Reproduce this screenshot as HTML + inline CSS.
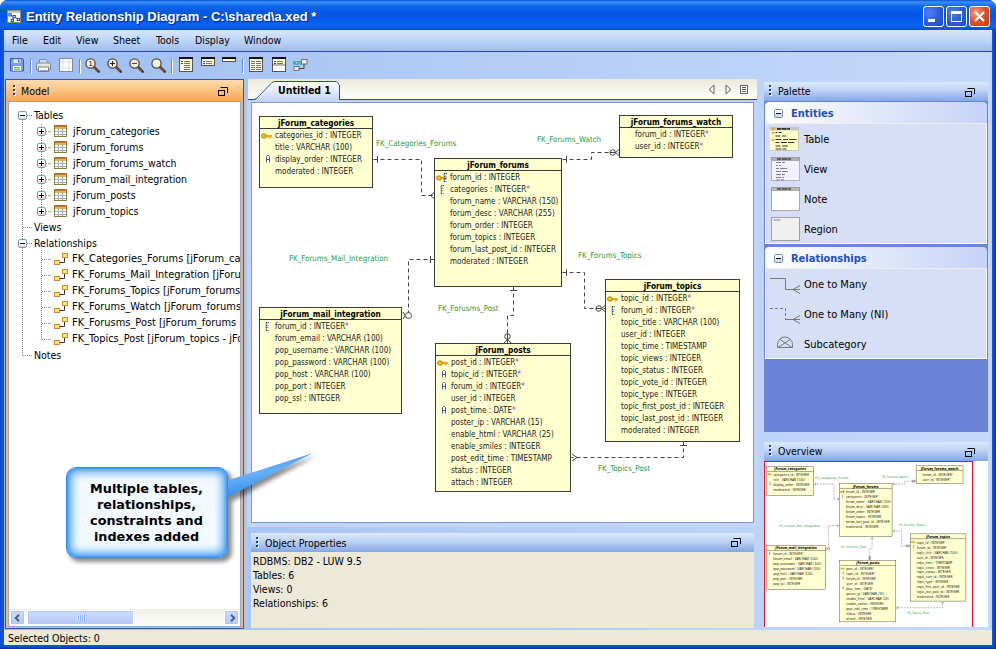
<!DOCTYPE html>
<html><head><meta charset="utf-8"><title>Entity Relationship Diagram</title>
<style>
*{box-sizing:border-box;margin:0;padding:0}
html,body{width:996px;height:649px;overflow:hidden;background:#fff}
body{font-family:"DejaVu Sans Condensed","Liberation Sans",sans-serif;font-size:10.5px;color:#000;position:relative}
div,span,svg{position:absolute}
.t{white-space:nowrap;line-height:14px;height:14px}
#win{left:0;top:0;width:996px;height:649px;border-radius:8px 8px 0 0;overflow:hidden;
 background:linear-gradient(to bottom,rgba(0,0,0,0) 0,rgba(0,0,0,0) 646px,rgba(0,20,110,.55) 649px),linear-gradient(to right,#0a46d8 0,#0b55e4 2px,#0b55e4 993px,#062ea8 996px)}
#titlebar{left:0;top:0;width:996px;height:30px;
 background:linear-gradient(to bottom,#0a56d6 0%,#3c8df6 7%,#2a7ff4 12%,#0f66ea 22%,#0558e3 38%,#0457e4 55%,#075ff0 75%,#0a64f4 85%,#0a5be6 93%,#0a4cc4 100%)}
#title{left:26px;top:9px;font-family:"Liberation Sans",sans-serif;font-weight:bold;font-size:13px;color:#fff;text-shadow:1px 1px 1px #0a2580;white-space:nowrap;line-height:16px}
.wb{top:6px;width:21px;height:21px;border:1px solid #fff;border-radius:3px;background:radial-gradient(circle at 30% 30%,#4f80f0 0,#2c5de0 50%,#1d48c8 100%)}
#client{left:4px;top:30px;width:988px;height:615px;background:linear-gradient(to right,#9ebdf3 0%,#b3ccf6 45%,#c4d9fa 100%)}
#menubar{left:0;top:0;width:988px;height:22px;background:linear-gradient(to bottom,#d8e6fb 0%,#c6daf9 35%,#a9c4ef 85%,#9ebbe9 100%);border-bottom:1px solid #3446a8}
#menubar span{top:3px;white-space:nowrap;line-height:14px}
#status{left:0;top:600px;width:988px;height:15px;background:#ece9d8}
.phead{height:21px;background:linear-gradient(to bottom,#dde9fb 0%,#bdd2f5 45%,#82a7e6 100%)}
.phead .t{top:3px;left:14px}
.grip{left:5px;top:4px;width:3px;height:11px}
.grip i{position:absolute;left:0;width:2px;height:2px;background:#1c3a9c;box-shadow:1px 1px 0 #fff}
.float{top:5px;width:11px;height:10px}
/* diagram */
.dg{font-family:"DejaVu Sans Condensed","Liberation Sans",sans-serif;font-size:8px;line-height:12px}
.tb{background:#ffffcf;border:1px solid #3a3a3a}
.tb .h{left:0;top:0;width:100%;height:12px;border-bottom:1px solid #3a3a3a;text-align:center;font-weight:bold;font-size:8.200px;line-height:13.500px;white-space:nowrap}
.tb .r{left:15px;white-space:nowrap;height:12px;line-height:12px;color:#222}
.tb .r b{color:#d020a0;font-weight:normal}
.fk{color:#2c9a3c;white-space:nowrap;height:12px;line-height:12px;font-size:7.900px}
#ov .r,#ov .fk{margin-top:2px}
</style></head><body>
<div id="win">
<div id="titlebar"><div id="title">Entity Relationship Diagram - C:\shared\a.xed *</div>
<div class="wb" style="left:923px"><div style="left:4px;top:12px;width:7px;height:3px;background:#fff"></div></div>
<div class="wb" style="left:946px"><div style="left:4px;top:4px;width:11px;height:11px;border:1px solid #fff;border-top-width:3px"></div></div>
<div class="wb" style="left:969px;background:radial-gradient(circle at 30% 30%,#f0a080 0,#e0542c 45%,#c03a12 100%)"><svg style="left:4px;top:4px" width="11" height="11" viewBox="0 0 11 11"><path d="M1 1l9 9M10 1l-9 9" stroke="#fff" stroke-width="2.200"/></svg></div>
<svg style="left:7px;top:10px" width="14" height="13" viewBox="0 0 15 14" preserveAspectRatio="none"><rect x=".5" y=".5" width="14" height="13" fill="#fff" stroke="#9a8a50"/><rect x="1" y="1" width="13" height="2" fill="#a8c0e8"/><path d="M3.500 5l3.500 2.500M8.500 7.500l3.500 3M7 8l-1.500 3" stroke="#1c3a8c" stroke-width=".9"/><g fill="#fff" stroke="#1c3a8c" stroke-width="1"><rect x="2" y="4" width="2.400" height="2.400"/><rect x="6.500" y="6" width="2.400" height="2.400"/><rect x="11" y="9" width="2.400" height="2.400"/><rect x="4.500" y="10" width="2.400" height="2.400"/></g></svg>
</div>
<div id="client">
<div id="menubar"><span style="left:8px">File</span><span style="left:39px">Edit</span><span style="left:72px">View</span><span style="left:109px">Sheet</span><span style="left:152px">Tools</span><span style="left:191px">Display</span><span style="left:240px">Window</span></div>
<svg style="left:6px;top:28px" width="14" height="14" viewBox="0 0 14 14"><path d="M1 .5h11.5l1 1v11.5H.5V.5z" fill="#7ba0e6" stroke="#3558b8"/><rect x="3" y="1" width="8" height="4.5" fill="#e8f0ff" stroke="#5a7ad0" stroke-width=".6"/><rect x="8" y="1.6" width="1.6" height="3" fill="#5a7ad0"/><rect x="2.5" y="7.5" width="9" height="5.5" fill="#fff" stroke="#5a7ad0" stroke-width=".6"/><rect x="4" y="9" width="6" height="1.4" fill="#7cc043"/><rect x="4" y="11" width="6" height="1.2" fill="#7cc043"/></svg>
<div style="left:26px;top:29px;width:1px;height:14px;background:#6a8ad0"></div><div style="left:27px;top:30px;width:1px;height:14px;background:#fff"></div>
<svg style="left:31px;top:28px" width="17" height="15" viewBox="0 0 17 15"><path d="M4.5 6V1.5h6l2.5 2.5V6" fill="#cfe0fb" stroke="#5f86d8" stroke-width=".9"/><path d="M1.5 6.5c0-1 .8-1.5 1.8-1.5h10.400c1 0 1.800.5 1.800 1.500v5h-14z" fill="#e6e6e6" stroke="#777" stroke-width=".9"/><rect x="3.500" y="9" width="10" height="4.500" fill="#fff" stroke="#777" stroke-width=".9"/><path d="M4.5 12.500h8" stroke="#7ba0e6" stroke-width="1.200"/></svg>
<svg style="left:55px;top:28px" width="14" height="14" viewBox="0 0 14 14"><rect x=".5" y=".5" width="13" height="13" fill="#fff" stroke="#8a8a8a"/><path d="M4 1v12M10 1v12M1 4h12M1 10h12" stroke="#d0d0f8" stroke-width=".8"/></svg>
<div style="left:75px;top:29px;width:1px;height:14px;background:#6a8ad0"></div><div style="left:76px;top:30px;width:1px;height:14px;background:#fff"></div>
<svg style="left:81px;top:28px" width="15" height="15" viewBox="0 0 15 15"><path d="M9 9L13.700 13.700" stroke="#5a3622" stroke-width="2.600" stroke-linecap="round"/><path d="M9 9.500L13 13.300" stroke="#b0683a" stroke-width=".9"/><circle cx="5.500" cy="5.500" r="4.600" fill="#f8f4dc" stroke="#4a4a4a" stroke-width="1.300"/><text x="3.400" y="8.300" font-size="7.500" font-family="Liberation Sans,sans-serif" fill="#000">1</text></svg>
<svg style="left:103px;top:28px" width="15" height="15" viewBox="0 0 15 15"><path d="M9 9L13.700 13.700" stroke="#5a3622" stroke-width="2.600" stroke-linecap="round"/><path d="M9 9.500L13 13.300" stroke="#b0683a" stroke-width=".9"/><circle cx="5.500" cy="5.500" r="4.600" fill="#f8f4dc" stroke="#4a4a4a" stroke-width="1.300"/><path d="M3 5.500h5M5.500 3v5" stroke="#222" stroke-width="1.100"/></svg>
<svg style="left:125px;top:28px" width="15" height="15" viewBox="0 0 15 15"><path d="M9 9L13.700 13.700" stroke="#5a3622" stroke-width="2.600" stroke-linecap="round"/><path d="M9 9.500L13 13.300" stroke="#b0683a" stroke-width=".9"/><circle cx="5.500" cy="5.500" r="4.600" fill="#f8f4dc" stroke="#4a4a4a" stroke-width="1.300"/><path d="M3 5.500h5" stroke="#7a2a2a" stroke-width="1.200"/></svg>
<svg style="left:147px;top:28px" width="15" height="15" viewBox="0 0 15 15"><path d="M9 9L13.700 13.700" stroke="#5a3622" stroke-width="2.600" stroke-linecap="round"/><path d="M9 9.500L13 13.300" stroke="#b0683a" stroke-width=".9"/><circle cx="5.500" cy="5.500" r="4.600" fill="#f8f4dc" stroke="#4a4a4a" stroke-width="1.300"/></svg>
<div style="left:167px;top:29px;width:1px;height:14px;background:#6a8ad0"></div><div style="left:168px;top:30px;width:1px;height:14px;background:#fff"></div>
<svg style="left:175px;top:27px" width="14" height="15" viewBox="0 0 14 15"><rect x=".5" y=".5" width="13" height="14" fill="#fffbd6" stroke="#555" stroke-width="1"/><rect x="0" y="0" width="14" height="2" fill="#111"/><rect x="2" y="4" width="2" height="1" fill="#2a50c0"/><rect x="5" y="4" width="6" height="1" fill="#777"/><rect x="2" y="6" width="2" height="1" fill="#2a50c0"/><rect x="5" y="6" width="6" height="1" fill="#777"/><rect x="5" y="8" width="6" height="1" fill="#777"/><rect x="5" y="10" width="6" height="1" fill="#777"/><rect x="5" y="12" width="6" height="1" fill="#777"/></svg>
<svg style="left:197px;top:27px" width="14" height="9" viewBox="0 0 14 9"><rect x=".5" y=".5" width="13" height="8" fill="#fffbd6" stroke="#555" stroke-width="1"/><rect x="0" y="0" width="14" height="2" fill="#111"/><rect x="2" y="4" width="2" height="1" fill="#2a50c0"/><rect x="5" y="4" width="6" height="1" fill="#777"/><rect x="2" y="6" width="2" height="1" fill="#2a50c0"/><rect x="5" y="6" width="6" height="1" fill="#777"/></svg>
<svg style="left:218px;top:27px" width="14" height="5" viewBox="0 0 14 5"><rect x=".5" y=".5" width="13" height="4" fill="#fffbd6" stroke="#555" stroke-width="1"/><rect x="0" y="0" width="14" height="2" fill="#111"/></svg>
<div style="left:238px;top:29px;width:1px;height:14px;background:#6a8ad0"></div><div style="left:239px;top:30px;width:1px;height:14px;background:#fff"></div>
<svg style="left:245px;top:27px" width="14" height="15" viewBox="0 0 14 15"><rect x=".5" y=".5" width="13" height="14" fill="#fffbd6" stroke="#555" stroke-width="1"/><rect x="0" y="0" width="14" height="2" fill="#111"/><rect x="2" y="4" width="4" height="1" fill="#777"/><rect x="7" y="4" width="5" height="1" fill="#777"/><rect x="2" y="6" width="4" height="1" fill="#777"/><rect x="7" y="6" width="5" height="1" fill="#777"/><rect x="2" y="8" width="4" height="1" fill="#777"/><rect x="7" y="8" width="5" height="1" fill="#777"/><rect x="2" y="10" width="4" height="1" fill="#777"/><rect x="7" y="10" width="5" height="1" fill="#777"/><rect x="2" y="12" width="4" height="1" fill="#777"/><rect x="7" y="12" width="5" height="1" fill="#777"/></svg>
<svg style="left:268px;top:27px" width="14" height="15" viewBox="0 0 14 15"><rect x=".5" y=".5" width="13" height="14" fill="#fffbd6" stroke="#555" stroke-width="1"/><rect x="0" y="0" width="14" height="2" fill="#111"/><rect x="2" y="4" width="2" height="1" fill="#2a50c0"/><rect x="5" y="4" width="6" height="1" fill="#777"/><rect x="2" y="6" width="2" height="1" fill="#2a50c0"/><rect x="5" y="6" width="6" height="1" fill="#777"/><rect x="1" y="8" width="12" height="6" fill="#fff"/><path d="M.5 8h13" stroke="#555" stroke-width=".8"/></svg>
<svg style="left:289px;top:29px" width="15" height="12" viewBox="0 0 15 12"><text x="0" y="6" font-size="5.500" font-weight="bold" font-family="Liberation Sans,sans-serif" fill="#1f9a3a">KR</text><rect x="8.500" y=".5" width="5.500" height="4.500" fill="#eee" stroke="#666" stroke-width=".9"/><rect x="1" y="7.500" width="5" height="4" fill="#eee" stroke="#666" stroke-width=".9"/><path d="M11 5v4.500H6" fill="none" stroke="#444" stroke-width="1"/></svg>
<div id="lp" style="left:1px;top:49px;width:239px;height:550px;background:#fbb465;border:1px solid #3e52ac">
<div style="left:0;top:0;width:237px;height:21px;background:linear-gradient(to bottom,#fdddb0 0%,#fbc585 45%,#f8a653 100%)"><div class="grip" style="left:7px;top:5px"><i style="top:0"></i><i style="top:4px"></i><i style="top:8px"></i></div><div class="t" style="left:15px;top:4px">Model</div><svg class="float" style="top:6px;left:211px" viewBox="0 0 11 10"><path d="M3.500 1.500H10.500V7" fill="none" stroke="#000" stroke-width="1"/><rect x="1.500" y="4.500" width="6" height="5" fill="none" stroke="#000" stroke-width="1"/></svg></div>
<div id="tree" style="left:2px;top:21px;width:233px;height:526px;background:#fff;border:1px solid #8ea8d8;overflow:hidden">
<svg style="left:0;top:0" width="231" height="300" viewBox="0 0 231 300"><g stroke="#8a8a8a" stroke-width="1" stroke-dasharray="1 1" fill="none"><path d="M13.5 18V253.5H23"/><path d="M18 13.5H23M14 125.5H23M18 141.5H23"/><path d="M32.5 22V105"/><path d="M37 29.5H43"/><path d="M37 45.5H43"/><path d="M37 61.5H43"/><path d="M37 77.5H43"/><path d="M37 93.5H43"/><path d="M37 109.5H43"/><path d="M32.5 148V237.5"/><path d="M33 157.5H43"/><path d="M33 173.5H43"/><path d="M33 189.5H43"/><path d="M33 205.5H43"/><path d="M33 221.5H43"/><path d="M33 237.5H43"/></g><rect x="9.5" y="9.5" width="8" height="8" rx="1.500" fill="#fff" stroke="#7898c0"/><rect x="10" y="15" width="7" height="2" fill="#e4e0d4"/><path d="M11 13.5h5" stroke="#000"/><rect x="9.5" y="137.5" width="8" height="8" rx="1.500" fill="#fff" stroke="#7898c0"/><rect x="10" y="143" width="7" height="2" fill="#e4e0d4"/><path d="M11 141.5h5" stroke="#000"/><rect x="28.5" y="25.5" width="8" height="8" rx="1.500" fill="#fff" stroke="#7898c0"/><rect x="29" y="31" width="7" height="2" fill="#e4e0d4"/><path d="M30 29.5h5" stroke="#000"/><path d="M32.5 27v5" stroke="#000"/><rect x="45.5" y="23.5" width="12" height="11" fill="#fff" stroke="#8a7a3a"/><rect x="46" y="24" width="11" height="3" fill="#f2b040"/><path d="M46 24.5h11" stroke="#d07818"/><path d="M49.5 27v7M53.5 27v7M46 29.5h11M46 32.5h11" stroke="#9ab0d0" stroke-width="1"/><rect x="28.5" y="41.5" width="8" height="8" rx="1.500" fill="#fff" stroke="#7898c0"/><rect x="29" y="47" width="7" height="2" fill="#e4e0d4"/><path d="M30 45.5h5" stroke="#000"/><path d="M32.5 43v5" stroke="#000"/><rect x="45.5" y="39.5" width="12" height="11" fill="#fff" stroke="#8a7a3a"/><rect x="46" y="40" width="11" height="3" fill="#f2b040"/><path d="M46 40.5h11" stroke="#d07818"/><path d="M49.5 43v7M53.5 43v7M46 45.5h11M46 48.5h11" stroke="#9ab0d0" stroke-width="1"/><rect x="28.5" y="57.5" width="8" height="8" rx="1.500" fill="#fff" stroke="#7898c0"/><rect x="29" y="63" width="7" height="2" fill="#e4e0d4"/><path d="M30 61.5h5" stroke="#000"/><path d="M32.5 59v5" stroke="#000"/><rect x="45.5" y="55.5" width="12" height="11" fill="#fff" stroke="#8a7a3a"/><rect x="46" y="56" width="11" height="3" fill="#f2b040"/><path d="M46 56.5h11" stroke="#d07818"/><path d="M49.5 59v7M53.5 59v7M46 61.5h11M46 64.5h11" stroke="#9ab0d0" stroke-width="1"/><rect x="28.5" y="73.5" width="8" height="8" rx="1.500" fill="#fff" stroke="#7898c0"/><rect x="29" y="79" width="7" height="2" fill="#e4e0d4"/><path d="M30 77.5h5" stroke="#000"/><path d="M32.5 75v5" stroke="#000"/><rect x="45.5" y="71.5" width="12" height="11" fill="#fff" stroke="#8a7a3a"/><rect x="46" y="72" width="11" height="3" fill="#f2b040"/><path d="M46 72.5h11" stroke="#d07818"/><path d="M49.5 75v7M53.5 75v7M46 77.5h11M46 80.5h11" stroke="#9ab0d0" stroke-width="1"/><rect x="28.5" y="89.5" width="8" height="8" rx="1.500" fill="#fff" stroke="#7898c0"/><rect x="29" y="95" width="7" height="2" fill="#e4e0d4"/><path d="M30 93.5h5" stroke="#000"/><path d="M32.5 91v5" stroke="#000"/><rect x="45.5" y="87.5" width="12" height="11" fill="#fff" stroke="#8a7a3a"/><rect x="46" y="88" width="11" height="3" fill="#f2b040"/><path d="M46 88.5h11" stroke="#d07818"/><path d="M49.5 91v7M53.5 91v7M46 93.5h11M46 96.5h11" stroke="#9ab0d0" stroke-width="1"/><rect x="28.5" y="105.5" width="8" height="8" rx="1.500" fill="#fff" stroke="#7898c0"/><rect x="29" y="111" width="7" height="2" fill="#e4e0d4"/><path d="M30 109.5h5" stroke="#000"/><path d="M32.5 107v5" stroke="#000"/><rect x="45.5" y="103.5" width="12" height="11" fill="#fff" stroke="#8a7a3a"/><rect x="46" y="104" width="11" height="3" fill="#f2b040"/><path d="M46 104.5h11" stroke="#d07818"/><path d="M49.5 107v7M53.5 107v7M46 109.5h11M46 112.5h11" stroke="#9ab0d0" stroke-width="1"/><path d="M50 160.5h5.500v-6" stroke="#333" fill="none"/><rect x="45.5" y="158.5" width="5" height="4" fill="#ffe08a" stroke="#d88a1c"/><rect x="53.5" y="151.5" width="5" height="4" fill="#ffe08a" stroke="#d88a1c"/><path d="M50 176.5h5.500v-6" stroke="#333" fill="none"/><rect x="45.5" y="174.5" width="5" height="4" fill="#ffe08a" stroke="#d88a1c"/><rect x="53.5" y="167.5" width="5" height="4" fill="#ffe08a" stroke="#d88a1c"/><path d="M50 192.5h5.500v-6" stroke="#333" fill="none"/><rect x="45.5" y="190.5" width="5" height="4" fill="#ffe08a" stroke="#d88a1c"/><rect x="53.5" y="183.5" width="5" height="4" fill="#ffe08a" stroke="#d88a1c"/><path d="M50 208.5h5.500v-6" stroke="#333" fill="none"/><rect x="45.5" y="206.5" width="5" height="4" fill="#ffe08a" stroke="#d88a1c"/><rect x="53.5" y="199.5" width="5" height="4" fill="#ffe08a" stroke="#d88a1c"/><path d="M50 224.5h5.500v-6" stroke="#333" fill="none"/><rect x="45.5" y="222.5" width="5" height="4" fill="#ffe08a" stroke="#d88a1c"/><rect x="53.5" y="215.5" width="5" height="4" fill="#ffe08a" stroke="#d88a1c"/><path d="M50 240.5h5.500v-6" stroke="#333" fill="none"/><rect x="45.5" y="238.5" width="5" height="4" fill="#ffe08a" stroke="#d88a1c"/><rect x="53.5" y="231.5" width="5" height="4" fill="#ffe08a" stroke="#d88a1c"/></svg>
<div class="t" style="left:25px;top:6px">Tables</div>
<div class="t" style="left:64px;top:22px">jForum_categories</div>
<div class="t" style="left:64px;top:38px">jForum_forums</div>
<div class="t" style="left:64px;top:54px">jForum_forums_watch</div>
<div class="t" style="left:64px;top:70px">jForum_mail_integration</div>
<div class="t" style="left:64px;top:86px">jForum_posts</div>
<div class="t" style="left:64px;top:102px">jForum_topics</div>
<div class="t" style="left:25px;top:118px">Views</div>
<div class="t" style="left:25px;top:134px">Relationships</div>
<div class="t" style="font-size:10.950px;left:63px;top:150px">FK_Categories_Forums [jForum_categories - jForum_forums]</div>
<div class="t" style="font-size:10.950px;left:63px;top:166px">FK_Forums_Mail_Integration [jForum_forums - jForum_mail_integration]</div>
<div class="t" style="font-size:10.950px;left:63px;top:182px">FK_Forums_Topics [jForum_forums - jForum_topics]</div>
<div class="t" style="font-size:10.950px;left:63px;top:198px">FK_Forums_Watch [jForum_forums - jForum_forums_watch]</div>
<div class="t" style="font-size:10.950px;left:63px;top:214px">FK_Forusms_Post [jForum_forums - jForum_posts]</div>
<div class="t" style="font-size:10.950px;left:63px;top:230px">FK_Topics_Post [jForum_topics - jForum_posts]</div>
<div class="t" style="left:25px;top:246px">Notes</div>
<div style="left:0;top:507px;width:231px;height:17px;background:linear-gradient(to bottom,#f1f0e6,#fdfdfb)">
<div style="left:1px;width:15px;height:15px;top:1px;border:1px solid #fff;border-radius:2px;background:linear-gradient(to bottom,#cbdcfb,#b6cbf5);box-shadow:0 0 0 1px #b0c4f0 inset"><svg style="left:3px;top:3px" width="7" height="8" viewBox="0 0 7 8"><path d="M5 .8L1.800 4 5 7.200" fill="none" stroke="#4d6185" stroke-width="2"/></svg></div>
<div style="left:215px;width:15px;height:15px;top:1px;border:1px solid #fff;border-radius:2px;background:linear-gradient(to bottom,#cbdcfb,#b6cbf5);box-shadow:0 0 0 1px #b0c4f0 inset"><svg style="left:4px;top:3px" width="7" height="8" viewBox="0 0 7 8"><path d="M2 .8L5.200 4 2 7.200" fill="none" stroke="#4d6185" stroke-width="2"/></svg></div>
<div style="left:18px;top:1px;width:107px;height:15px;border:1px solid #fff;border-radius:2px;background:linear-gradient(to bottom,#cddcfc,#bccff8 70%,#b0c6f4);box-shadow:0 0 0 1px #b4c8f2 inset"><div style="left:49px;top:4px;width:8px;height:6px;background:repeating-linear-gradient(to right,#eef4fe 0,#eef4fe 1px,#8cb0f8 1px,#8cb0f8 2px)"></div></div>
</div>
</div></div>
<div style="left:244px;top:49px;width:509px;height:21px;background:linear-gradient(to bottom,#ebe9d8 0%,#f6f5ec 50%,#fff 100%);border-bottom:1px solid #3a4fb0"></div>
<svg style="left:244px;top:49px" width="509" height="24" viewBox="0 0 509 24"><defs><linearGradient id="tg" x1="0" y1="0" x2="0" y2="1"><stop offset="0" stop-color="#fff"/><stop offset=".5" stop-color="#e4ecfb"/><stop offset="1" stop-color="#c3d5f7"/></linearGradient></defs><rect x="0" y="21" width="509" height="3" fill="#c3d5f7"/><path d="M0 20.500H6.500L9 19 24 3.500 27 2.500H88L90.500 4.500 91.500 7V20.500H509" fill="none" stroke="#2f44a8" stroke-width="1"/><path d="M7 21L9.500 19.500 24.500 4 27 3H88L90 5 91 7V21z" fill="url(#tg)"/><path d="M461 10.500l5-4.500v9zM478 6l5 4.500-5 4.500z" fill="none" stroke="#666" stroke-width="1"/><rect x="492.500" y="6.500" width="7" height="8" fill="#fff" stroke="#666"/><path d="M494 8.500h4M494 10.500h4M494 12.500h4" stroke="#555" stroke-width="1"/></svg>
<div class="t" style="left:274px;top:53px;font-weight:bold">Untitled 1</div>
<div style="left:243px;top:70px;width:511px;height:427px;background:#c3d5f7"></div>
<div id="canvaswrap" style="left:248px;top:73px;width:501px;height:419px;background:#fff;box-shadow:0 0 0 1px #7f97c8;overflow:hidden">
<div class="dg" id="canvas" style="left:-2px;top:-1px;width:504px;height:420px">
<svg style="left:0;top:0" width="504" height="420" viewBox="0 0 504 420" fill="none" stroke="#444" stroke-width="1"><path d="M123.5 57.5 L171.5 57.5 L171.5 93.5 L184.5 93.5" stroke-dasharray="4 3"/><path d="M312.5 57.5 L341.5 57.5 L341.5 50.5 L369.5 50.5" stroke-dasharray="4 3"/><path d="M184.5 157.5 L158.5 157.5 L158.5 212.5" stroke-dasharray="4 3"/><path d="M312.5 170.5 L334.5 170.5 L334.5 206.5 L355.5 206.5" stroke-dasharray="4 3"/><path d="M263.5 184.5 L263.5 213.5 L257.5 213.5 L257.5 241.5" stroke-dasharray="4 3"/><path d="M433.5 339.5 L433.5 355.5 L321.5 355.5" stroke-dasharray="4 3"/><path d="M127.5 54v7"/><path d="M316.5 54v7"/><path d="M316.5 167v7"/><path d="M180.5 154v7"/><path d="M260 188.5h7"/><path d="M430 343.5h7"/><path d="M180.5 93.5L184 90.5M180.5 93.5L184 96.5"/><path d="M365.5 50.5L369 47.5M365.5 50.5L369 53.5"/><circle cx="362.7" cy="50.5" r="2.800" fill="#fff"/><path d="M360 50.5h5.500"/><path d="M351.5 206.5L355 203.5M351.5 206.5L355 209.5"/><circle cx="348.7" cy="206.5" r="2.800" fill="#fff"/><path d="M346 206.5h5.500"/><path d="M257.5 237.5L254 241M257.5 237.5L261 241"/><circle cx="257.5" cy="234.5" r="2.800" fill="#fff"/><path d="M257.5 232v9"/><path d="M327 355.5L322 352M327 355.5L322 359"/><circle cx="158.5" cy="213.5" r="3" fill="#fff"/><path d="M155 213.5L153 210M155 213.5L153 217"/></svg>
<div class="tb" style="left:9px;top:14px;width:114px;height:72px"><div class="h">jForum_categories</div><svg style="left:1px;top:16px" width="11" height="6" viewBox="0 0 11 6"><ellipse cx="3" cy="3" rx="2.6" ry="2.2" fill="#f2c21a" stroke="#a8740a" stroke-width=".8"/><path d="M5 2.4h5.5v1.4h-1v1h-1.2v-1H5z" fill="#f2c21a" stroke="#a8740a" stroke-width=".5"/></svg><div class="r" style="top:13px">categories_id : INTEGER</div><div class="r" style="top:25px">title : VARCHAR (100)</div><svg style="left:6px;top:38px" width="4" height="8" viewBox="0 0 4 8"><path d="M.5 7.500V1.500L1.500.5h1L3.500 1.500v6M.5 4.500h3" fill="none" stroke="#2a4a9c" stroke-width=".9"/></svg><div class="r" style="top:37px">display_order : INTEGER</div><div class="r" style="top:49px">moderated : INTEGER</div></div>
<div class="tb" style="left:184px;top:56px;width:128px;height:129px"><div class="h">jForum_forums</div><svg style="left:1px;top:16px" width="11" height="6" viewBox="0 0 11 6"><ellipse cx="3" cy="3" rx="2.6" ry="2.2" fill="#f2c21a" stroke="#a8740a" stroke-width=".8"/><path d="M5 2.4h5.5v1.4h-1v1h-1.2v-1H5z" fill="#f2c21a" stroke="#a8740a" stroke-width=".5"/></svg><svg style="left:8px;top:14px" width="5" height="9" viewBox="0 0 5 9"><path d="M1 .5h3M1.2 1v7.5M1.2 3.2h2.4M1.2 5.6h2.2M1 8.5h2.6" fill="none" stroke="#1c3a8c" stroke-width="1" stroke-dasharray="1.4 .7"/></svg><div class="r" style="top:13px">forum_id : INTEGER</div><svg style="left:5px;top:26px" width="5" height="9" viewBox="0 0 5 9"><path d="M1 .5h3M1.2 1v7.5M1.2 3.2h2.4M1.2 5.6h2.2M1 8.5h2.6" fill="none" stroke="#1c3a8c" stroke-width="1" stroke-dasharray="1.4 .7"/></svg><div class="r" style="top:25px">categories : INTEGER<b>*</b></div><div class="r" style="top:37px">forum_name : VARCHAR (150)</div><div class="r" style="top:49px">forum_desc : VARCHAR (255)</div><div class="r" style="top:61px">forum_order : INTEGER</div><div class="r" style="top:73px">forum_topics : INTEGER</div><div class="r" style="top:85px">forum_last_post_id : INTEGER</div><div class="r" style="top:97px">moderated : INTEGER</div></div>
<div class="tb" style="left:369px;top:13px;width:114px;height:43px"><div class="h">jForum_forums_watch</div><div class="r" style="top:13px">forum_id : INTEGER<b>*</b></div><div class="r" style="top:25px">user_id : INTEGER<b>*</b></div></div>
<div class="tb" style="left:9px;top:205px;width:143px;height:107px"><div class="h">jForum_mail_integration</div><svg style="left:5px;top:14px" width="5" height="9" viewBox="0 0 5 9"><path d="M1 .5h3M1.2 1v7.5M1.2 3.2h2.4M1.2 5.6h2.2M1 8.5h2.6" fill="none" stroke="#1c3a8c" stroke-width="1" stroke-dasharray="1.4 .7"/></svg><div class="r" style="top:13px">forum_id : INTEGER<b>*</b></div><div class="r" style="top:25px">forum_email : VARCHAR (100)</div><div class="r" style="top:37px">pop_username : VARCHAR (100)</div><div class="r" style="top:49px">pop_password : VARCHAR (100)</div><div class="r" style="top:61px">pop_host : VARCHAR (100)</div><div class="r" style="top:73px">pop_port : INTEGER</div><div class="r" style="top:85px">pop_ssl : INTEGER</div></div>
<div class="tb" style="left:185px;top:241px;width:136px;height:149px"><div class="h">jForum_posts</div><svg style="left:1px;top:16px" width="11" height="6" viewBox="0 0 11 6"><ellipse cx="3" cy="3" rx="2.6" ry="2.2" fill="#f2c21a" stroke="#a8740a" stroke-width=".8"/><path d="M5 2.4h5.5v1.4h-1v1h-1.2v-1H5z" fill="#f2c21a" stroke="#a8740a" stroke-width=".5"/></svg><div class="r" style="top:13px">post_id : INTEGER<b>*</b></div><svg style="left:6px;top:26px" width="4" height="8" viewBox="0 0 4 8"><path d="M.5 7.500V1.500L1.500.5h1L3.500 1.500v6M.5 4.500h3" fill="none" stroke="#2a4a9c" stroke-width=".9"/></svg><div class="r" style="top:25px">topic_id : INTEGER<b>*</b></div><svg style="left:6px;top:38px" width="4" height="8" viewBox="0 0 4 8"><path d="M.5 7.500V1.500L1.500.5h1L3.500 1.500v6M.5 4.500h3" fill="none" stroke="#2a4a9c" stroke-width=".9"/></svg><div class="r" style="top:37px">forum_id : INTEGER<b>*</b></div><div class="r" style="top:49px">user_id : INTEGER</div><svg style="left:6px;top:62px" width="4" height="8" viewBox="0 0 4 8"><path d="M.5 7.500V1.500L1.500.5h1L3.500 1.500v6M.5 4.500h3" fill="none" stroke="#2a4a9c" stroke-width=".9"/></svg><div class="r" style="top:61px">post_time : DATE<b>*</b></div><div class="r" style="top:73px">poster_ip : VARCHAR (15)</div><div class="r" style="top:85px">enable_html : VARCHAR (25)</div><div class="r" style="top:97px">enable_smiles : INTEGER</div><div class="r" style="top:109px">post_edit_time : TIMESTAMP</div><div class="r" style="top:121px">status : INTEGER</div><div class="r" style="top:133px">attach : INTEGER</div></div>
<div class="tb" style="left:355px;top:177px;width:135px;height:163px"><div class="h">jForum_topics</div><svg style="left:1px;top:16px" width="11" height="6" viewBox="0 0 11 6"><ellipse cx="3" cy="3" rx="2.6" ry="2.2" fill="#f2c21a" stroke="#a8740a" stroke-width=".8"/><path d="M5 2.4h5.5v1.4h-1v1h-1.2v-1H5z" fill="#f2c21a" stroke="#a8740a" stroke-width=".5"/></svg><div class="r" style="top:13px">topic_id : INTEGER<b>*</b></div><svg style="left:5px;top:26px" width="5" height="9" viewBox="0 0 5 9"><path d="M1 .5h3M1.2 1v7.5M1.2 3.2h2.4M1.2 5.6h2.2M1 8.5h2.6" fill="none" stroke="#1c3a8c" stroke-width="1" stroke-dasharray="1.4 .7"/></svg><div class="r" style="top:25px">forum_id : INTEGER<b>*</b></div><div class="r" style="top:37px">topic_title : VARCHAR (100)</div><div class="r" style="top:49px">user_id : INTEGER</div><div class="r" style="top:61px">topic_time : TIMESTAMP</div><div class="r" style="top:73px">topic_views : INTEGER</div><div class="r" style="top:85px">topic_status : INTEGER</div><div class="r" style="top:97px">topic_vote_id : INTEGER</div><div class="r" style="top:109px">topic_type : INTEGER</div><div class="r" style="top:121px">topic_first_post_id : INTEGER</div><div class="r" style="top:133px">topic_last_post_id : INTEGER</div><div class="r" style="top:145px">moderated : INTEGER</div></div>
<div class="fk" style="left:126px;top:36px">FK_Categories_Forums</div>
<div class="fk" style="left:287px;top:32px">FK_Forums_Watch</div>
<div class="fk" style="left:39px;top:151px">FK_Forums_Mail_Integration</div>
<div class="fk" style="left:328px;top:148px">FK_Forums_Topics</div>
<div class="fk" style="left:188px;top:201px">FK_Forusms_Post</div>
<div class="fk" style="left:348px;top:361px">FK_Topics_Post</div>
</div></div>
<div class="phead" style="left:247px;top:503px;width:503px;height:19px"><div class="grip"><i style="top:0"></i><i style="top:4px"></i><i style="top:8px"></i></div><div class="t" style="top:3px">Object Properties</div><svg class="float" style="top:4px;left:479px" viewBox="0 0 11 10"><path d="M3.500 1.500H10.500V7" fill="none" stroke="#000" stroke-width="1"/><rect x="1.500" y="4.500" width="6" height="5" fill="none" stroke="#000" stroke-width="1"/></svg></div>
<div style="left:247px;top:522px;width:503px;height:76px;background:#ece9d8">
<div class="t" style="left:2px;top:2px">RDBMS: DB2 - LUW 9.5</div>
<div class="t" style="left:2px;top:16px">Tables: 6</div>
<div class="t" style="left:2px;top:30px">Views: 0</div>
<div class="t" style="left:2px;top:44px">Relationships: 6</div>
</div>
<div class="phead" style="left:760px;top:52px;width:224px;height:19px"><div class="grip" style="top:3px"><i style="top:0"></i><i style="top:4px"></i><i style="top:8px"></i></div><div class="t" style="top:2px">Palette</div><svg class="float" style="left:200px" viewBox="0 0 11 10"><path d="M3.500 1.500H10.500V7" fill="none" stroke="#000" stroke-width="1"/><rect x="1.500" y="4.500" width="6" height="5" fill="none" stroke="#000" stroke-width="1"/></svg></div>
<div style="left:760px;top:71px;width:224px;height:331px;background:#6b83d9"></div>
<div style="left:761px;top:72px;width:222px;height:22px;border-radius:4px 4px 0 0;background:linear-gradient(to right,#fff 0%,#e6ecfb 40%,#c6d3f7 100%);border-bottom:1px solid #f1efe2"><svg style="left:9px;top:7px" width="9" height="9" viewBox="0 0 9 9"><rect x=".5" y=".5" width="8" height="8" rx="1" fill="#fff" stroke="#7088b8"/><rect x="1" y="5" width="7" height="3" fill="#dedad0"/><path d="M2 4.500h5" stroke="#000"/></svg><div class="t" style="left:26px;top:5px;font-weight:bold;font-size:11px;color:#2150c0">Entities</div></div>
<div style="left:761px;top:94px;width:222px;height:120px;background:#d6dff7;border:1px solid #fff;border-top:0"></div>
<div style="left:761px;top:217px;width:222px;height:22px;border-radius:4px 4px 0 0;background:linear-gradient(to right,#fff 0%,#e6ecfb 40%,#c6d3f7 100%);border-bottom:1px solid #f1efe2"><svg style="left:9px;top:7px" width="9" height="9" viewBox="0 0 9 9"><rect x=".5" y=".5" width="8" height="8" rx="1" fill="#fff" stroke="#7088b8"/><rect x="1" y="5" width="7" height="3" fill="#dedad0"/><path d="M2 4.500h5" stroke="#000"/></svg><div class="t" style="left:26px;top:5px;font-weight:bold;font-size:11px;color:#2150c0">Relationships</div></div>
<div style="left:761px;top:239px;width:222px;height:90px;background:#d6dff7;border:1px solid #fff;border-top:0"></div>
<div class="t" style="left:800px;top:102px;font-size:11px;line-height:16px;height:16px">Table</div>
<div class="t" style="left:800px;top:132px;font-size:11px;line-height:16px;height:16px">View</div>
<div class="t" style="left:800px;top:162px;font-size:11px;line-height:16px;height:16px">Note</div>
<div class="t" style="left:800px;top:192px;font-size:11px;line-height:16px;height:16px">Region</div>
<div class="t" style="left:800px;top:247px;font-size:11px;line-height:16px;height:16px">One to Many</div>
<div class="t" style="left:800px;top:277px;font-size:11px;line-height:16px;height:16px">One to Many (NI)</div>
<div class="t" style="left:800px;top:307px;font-size:11px;line-height:16px;height:16px">Subcategory</div>
<svg style="left:766px;top:97px" width="29" height="25" viewBox="0 0 29 25"><rect x="0" y="0" width="29" height="24" fill="#ffffc6"/><path d="M0 23.500h29M28.500 0v24" stroke="#c8c8b8" stroke-width="1"/><rect x="0" y="0" width="29" height="3.500" fill="#c4c4c0"/><path d="M7 1.900h13" stroke="#333" stroke-width="1.600" stroke-dasharray="4 .6 5 .6 3"/><rect x="2" y=".8" width="2.500" height="2" fill="#e8a020"/><path d="M5.5 5.5h6" stroke="#3a3a30" stroke-width="1.100" stroke-dasharray="2 1.200 3"/><path d="M5.5 9h12" stroke="#3a3a30" stroke-width="1.100" stroke-dasharray="5 1.500 4 1.500"/><path d="M5.5 12.5h21" stroke="#3a3a30" stroke-width="1.100" stroke-dasharray="6 1.500 5 1 8"/><path d="M5.5 15.5h19" stroke="#3a3a30" stroke-width="1.100" stroke-dasharray="4 1.500 6 1 7"/><path d="M5.5 19h13" stroke="#3a3a30" stroke-width="1.100" stroke-dasharray="5 1.500 6"/><path d="M5.5 22h11" stroke="#3a3a30" stroke-width="1.100" stroke-dasharray="6 1 4"/><path d="M2 5l2.500 .8L2 6.500zM2 12l2.500 .8L2 13.500z" fill="#e08a10" stroke="#e08a10" stroke-width=".5"/></svg>
<svg style="left:767px;top:127px" width="29" height="25" viewBox="0 0 29 25"><rect x=".5" y=".5" width="28" height="23" fill="#f1f1ff" stroke="#b4b4bc"/><rect x=".5" y=".5" width="28" height="3" fill="#b0b0b0" stroke="#909090" stroke-width=".6"/><path d="M6 2h14" stroke="#444" stroke-width="1.500" stroke-dasharray="4 .6 6 .6 3"/><path d="M5 5.5h9" stroke="#80808c" stroke-width="1.100" stroke-dasharray="5 1 3"/><path d="M5 8.5h5" stroke="#80808c" stroke-width="1.100" stroke-dasharray="2 1 2"/><path d="M5 11.5h11" stroke="#80808c" stroke-width="1.100" stroke-dasharray="3 1 7"/><path d="M5 14.5h12" stroke="#80808c" stroke-width="1.100" stroke-dasharray="5 1 6"/><path d="M5 17.5h9" stroke="#80808c" stroke-width="1.100" stroke-dasharray="5 1 3"/><path d="M5 20.5h8" stroke="#80808c" stroke-width="1.100" stroke-dasharray="5 1.500 2"/><path d="M5 23h8" stroke="#80808c" stroke-width="1.100" stroke-dasharray="4 1 3"/></svg>
<svg style="left:767px;top:157px" width="29" height="25" viewBox="0 0 29 25"><rect x=".5" y=".5" width="28" height="23" fill="#fff" stroke="#a8a8a8"/><rect x=".5" y=".5" width="28" height="3" fill="#b8b8b8" stroke="#909090" stroke-width=".6"/><path d="M6 2h14" stroke="#444" stroke-width="1.500" stroke-dasharray="4 .6 6 .6 3"/></svg>
<svg style="left:767px;top:187px" width="29" height="25" viewBox="0 0 29 25"><rect x=".5" y=".5" width="28" height="23" fill="#f0f0f0" stroke="#a0a0a0"/><rect x="2.500" y="2.500" width="7" height="1" fill="#888"/></svg>
<svg style="left:765px;top:245px" width="32" height="22" viewBox="0 0 32 22" fill="none" stroke="#777" stroke-width="1"><path d="M1 3.500H16.500V14.500"/><path d="M16.500 14.500H31M24 14.500l7-4M24 14.500l7 4"/></svg>
<svg style="left:765px;top:275px" width="32" height="22" viewBox="0 0 32 22" fill="none" stroke="#777" stroke-width="1"><path d="M1 3.500H16.500V14.500" stroke-dasharray="3 2"/><path d="M16.500 14.500H31M24 14.500l7-4M24 14.500l7 4"/></svg>
<svg style="left:765px;top:306px" width="32" height="22" viewBox="0 0 32 22" fill="none" stroke="#777" stroke-width="1"><path d="M8.500 11.500V8.500a7.500 7.500 0 0 1 15 0v3zM9 11.500L21 3.500M23 11.500L11 3.500" stroke-width="1"/></svg>
<div class="phead" style="left:760px;top:412px;width:224px;height:19px"><div class="grip" style="top:3px"><i style="top:0"></i><i style="top:4px"></i><i style="top:8px"></i></div><div class="t" style="top:2px">Overview</div><svg class="float" style="left:200px" viewBox="0 0 11 10"><path d="M3.500 1.500H10.500V7" fill="none" stroke="#000" stroke-width="1"/><rect x="1.500" y="4.500" width="6" height="5" fill="none" stroke="#000" stroke-width="1"/></svg></div>
<div id="ov" style="left:760px;top:431px;width:224px;height:166px;background:#fff;overflow:hidden">
<div class="dg" style="left:0;top:0;width:504px;height:420px;transform:translate(-1.200px,-.800px) scale(.415);transform-origin:0 0"><svg style="left:0;top:0" width="504" height="420" viewBox="0 0 504 420" fill="none" stroke="#444" stroke-width="1"><path d="M123.5 57.5 L171.5 57.5 L171.5 93.5 L184.5 93.5" stroke-dasharray="4 3"/><path d="M312.5 57.5 L341.5 57.5 L341.5 50.5 L369.5 50.5" stroke-dasharray="4 3"/><path d="M184.5 157.5 L158.5 157.5 L158.5 212.5" stroke-dasharray="4 3"/><path d="M312.5 170.5 L334.5 170.5 L334.5 206.5 L355.5 206.5" stroke-dasharray="4 3"/><path d="M263.5 184.5 L263.5 213.5 L257.5 213.5 L257.5 241.5" stroke-dasharray="4 3"/><path d="M433.5 339.5 L433.5 355.5 L321.5 355.5" stroke-dasharray="4 3"/><path d="M127.5 54v7"/><path d="M316.5 54v7"/><path d="M316.5 167v7"/><path d="M180.5 154v7"/><path d="M260 188.5h7"/><path d="M430 343.5h7"/><path d="M180.5 93.5L184 90.5M180.5 93.5L184 96.5"/><path d="M365.5 50.5L369 47.5M365.5 50.5L369 53.5"/><circle cx="362.7" cy="50.5" r="2.800" fill="#fff"/><path d="M360 50.5h5.500"/><path d="M351.5 206.5L355 203.5M351.5 206.5L355 209.5"/><circle cx="348.7" cy="206.5" r="2.800" fill="#fff"/><path d="M346 206.5h5.500"/><path d="M257.5 237.5L254 241M257.5 237.5L261 241"/><circle cx="257.5" cy="234.5" r="2.800" fill="#fff"/><path d="M257.5 232v9"/><path d="M327 355.5L322 352M327 355.5L322 359"/><circle cx="158.5" cy="213.5" r="3" fill="#fff"/><path d="M155 213.5L153 210M155 213.5L153 217"/></svg>
<div class="tb" style="left:9px;top:14px;width:114px;height:72px"><div class="h">jForum_categories</div><svg style="left:1px;top:16px" width="11" height="6" viewBox="0 0 11 6"><ellipse cx="3" cy="3" rx="2.6" ry="2.2" fill="#f2c21a" stroke="#a8740a" stroke-width=".8"/><path d="M5 2.4h5.5v1.4h-1v1h-1.2v-1H5z" fill="#f2c21a" stroke="#a8740a" stroke-width=".5"/></svg><div class="r" style="top:13px">categories_id : INTEGER</div><div class="r" style="top:25px">title : VARCHAR (100)</div><svg style="left:6px;top:38px" width="4" height="8" viewBox="0 0 4 8"><path d="M.5 7.500V1.500L1.500.5h1L3.500 1.500v6M.5 4.500h3" fill="none" stroke="#2a4a9c" stroke-width=".9"/></svg><div class="r" style="top:37px">display_order : INTEGER</div><div class="r" style="top:49px">moderated : INTEGER</div></div>
<div class="tb" style="left:184px;top:56px;width:128px;height:129px"><div class="h">jForum_forums</div><svg style="left:1px;top:16px" width="11" height="6" viewBox="0 0 11 6"><ellipse cx="3" cy="3" rx="2.6" ry="2.2" fill="#f2c21a" stroke="#a8740a" stroke-width=".8"/><path d="M5 2.4h5.5v1.4h-1v1h-1.2v-1H5z" fill="#f2c21a" stroke="#a8740a" stroke-width=".5"/></svg><svg style="left:8px;top:14px" width="5" height="9" viewBox="0 0 5 9"><path d="M1 .5h3M1.2 1v7.5M1.2 3.2h2.4M1.2 5.6h2.2M1 8.5h2.6" fill="none" stroke="#1c3a8c" stroke-width="1" stroke-dasharray="1.4 .7"/></svg><div class="r" style="top:13px">forum_id : INTEGER</div><svg style="left:5px;top:26px" width="5" height="9" viewBox="0 0 5 9"><path d="M1 .5h3M1.2 1v7.5M1.2 3.2h2.4M1.2 5.6h2.2M1 8.5h2.6" fill="none" stroke="#1c3a8c" stroke-width="1" stroke-dasharray="1.4 .7"/></svg><div class="r" style="top:25px">categories : INTEGER<b>*</b></div><div class="r" style="top:37px">forum_name : VARCHAR (150)</div><div class="r" style="top:49px">forum_desc : VARCHAR (255)</div><div class="r" style="top:61px">forum_order : INTEGER</div><div class="r" style="top:73px">forum_topics : INTEGER</div><div class="r" style="top:85px">forum_last_post_id : INTEGER</div><div class="r" style="top:97px">moderated : INTEGER</div></div>
<div class="tb" style="left:369px;top:13px;width:114px;height:43px"><div class="h">jForum_forums_watch</div><div class="r" style="top:13px">forum_id : INTEGER<b>*</b></div><div class="r" style="top:25px">user_id : INTEGER<b>*</b></div></div>
<div class="tb" style="left:9px;top:205px;width:143px;height:107px"><div class="h">jForum_mail_integration</div><svg style="left:5px;top:14px" width="5" height="9" viewBox="0 0 5 9"><path d="M1 .5h3M1.2 1v7.5M1.2 3.2h2.4M1.2 5.6h2.2M1 8.5h2.6" fill="none" stroke="#1c3a8c" stroke-width="1" stroke-dasharray="1.4 .7"/></svg><div class="r" style="top:13px">forum_id : INTEGER<b>*</b></div><div class="r" style="top:25px">forum_email : VARCHAR (100)</div><div class="r" style="top:37px">pop_username : VARCHAR (100)</div><div class="r" style="top:49px">pop_password : VARCHAR (100)</div><div class="r" style="top:61px">pop_host : VARCHAR (100)</div><div class="r" style="top:73px">pop_port : INTEGER</div><div class="r" style="top:85px">pop_ssl : INTEGER</div></div>
<div class="tb" style="left:185px;top:241px;width:136px;height:149px"><div class="h">jForum_posts</div><svg style="left:1px;top:16px" width="11" height="6" viewBox="0 0 11 6"><ellipse cx="3" cy="3" rx="2.6" ry="2.2" fill="#f2c21a" stroke="#a8740a" stroke-width=".8"/><path d="M5 2.4h5.5v1.4h-1v1h-1.2v-1H5z" fill="#f2c21a" stroke="#a8740a" stroke-width=".5"/></svg><div class="r" style="top:13px">post_id : INTEGER<b>*</b></div><svg style="left:6px;top:26px" width="4" height="8" viewBox="0 0 4 8"><path d="M.5 7.500V1.500L1.500.5h1L3.500 1.500v6M.5 4.500h3" fill="none" stroke="#2a4a9c" stroke-width=".9"/></svg><div class="r" style="top:25px">topic_id : INTEGER<b>*</b></div><svg style="left:6px;top:38px" width="4" height="8" viewBox="0 0 4 8"><path d="M.5 7.500V1.500L1.500.5h1L3.500 1.500v6M.5 4.500h3" fill="none" stroke="#2a4a9c" stroke-width=".9"/></svg><div class="r" style="top:37px">forum_id : INTEGER<b>*</b></div><div class="r" style="top:49px">user_id : INTEGER</div><svg style="left:6px;top:62px" width="4" height="8" viewBox="0 0 4 8"><path d="M.5 7.500V1.500L1.500.5h1L3.500 1.500v6M.5 4.500h3" fill="none" stroke="#2a4a9c" stroke-width=".9"/></svg><div class="r" style="top:61px">post_time : DATE<b>*</b></div><div class="r" style="top:73px">poster_ip : VARCHAR (15)</div><div class="r" style="top:85px">enable_html : VARCHAR (25)</div><div class="r" style="top:97px">enable_smiles : INTEGER</div><div class="r" style="top:109px">post_edit_time : TIMESTAMP</div><div class="r" style="top:121px">status : INTEGER</div><div class="r" style="top:133px">attach : INTEGER</div></div>
<div class="tb" style="left:355px;top:177px;width:135px;height:163px"><div class="h">jForum_topics</div><svg style="left:1px;top:16px" width="11" height="6" viewBox="0 0 11 6"><ellipse cx="3" cy="3" rx="2.6" ry="2.2" fill="#f2c21a" stroke="#a8740a" stroke-width=".8"/><path d="M5 2.4h5.5v1.4h-1v1h-1.2v-1H5z" fill="#f2c21a" stroke="#a8740a" stroke-width=".5"/></svg><div class="r" style="top:13px">topic_id : INTEGER<b>*</b></div><svg style="left:5px;top:26px" width="5" height="9" viewBox="0 0 5 9"><path d="M1 .5h3M1.2 1v7.5M1.2 3.2h2.4M1.2 5.6h2.2M1 8.5h2.6" fill="none" stroke="#1c3a8c" stroke-width="1" stroke-dasharray="1.4 .7"/></svg><div class="r" style="top:25px">forum_id : INTEGER<b>*</b></div><div class="r" style="top:37px">topic_title : VARCHAR (100)</div><div class="r" style="top:49px">user_id : INTEGER</div><div class="r" style="top:61px">topic_time : TIMESTAMP</div><div class="r" style="top:73px">topic_views : INTEGER</div><div class="r" style="top:85px">topic_status : INTEGER</div><div class="r" style="top:97px">topic_vote_id : INTEGER</div><div class="r" style="top:109px">topic_type : INTEGER</div><div class="r" style="top:121px">topic_first_post_id : INTEGER</div><div class="r" style="top:133px">topic_last_post_id : INTEGER</div><div class="r" style="top:145px">moderated : INTEGER</div></div>
<div class="fk" style="left:126px;top:36px">FK_Categories_Forums</div>
<div class="fk" style="left:287px;top:32px">FK_Forums_Watch</div>
<div class="fk" style="left:39px;top:151px">FK_Forums_Mail_Integration</div>
<div class="fk" style="left:328px;top:148px">FK_Forums_Topics</div>
<div class="fk" style="left:188px;top:201px">FK_Forusms_Post</div>
<div class="fk" style="left:348px;top:361px">FK_Topics_Post</div></div>
<div style="left:0;top:0;width:209px;height:175px;border:1px solid #f0101c"></div>
</div>
<div id="status"><div class="t" style="left:4px;top:1px">Selected Objects: 0</div></div>
</div>
<svg style="left:50px;top:440px" width="290" height="135" viewBox="50 440 290 135"><defs><linearGradient id="ca" x1="0" y1="0" x2=".35" y2="1"><stop offset="0" stop-color="#2a84ea"/><stop offset=".5" stop-color="#66b0fa"/><stop offset="1" stop-color="#2a84ea"/></linearGradient><filter id="cs" x="-10%" y="-10%" width="130%" height="130%"><feGaussianBlur stdDeviation="2.200"/></filter></defs><g filter="url(#cs)" fill="#000" opacity=".45"><rect x="69" y="470" width="163" height="92" rx="10"/><path d="M231 484L316 456 231 502z"/></g><path d="M224 481.500L313 453 224 499z" fill="url(#ca)"/></svg>
<div style="left:66px;top:467px;width:162px;height:91px;border-radius:10px;background:#f2f9ff;border:1px solid #2f8cf0;box-shadow:inset 0 0 10px 4px #419cf6,inset 0 0 3px 1px #2f8cf0"></div>
<div style="left:66px;top:481px;width:161px;text-align:center;font-family:'DejaVu Sans','Liberation Sans',sans-serif;font-weight:bold;font-size:12.800px;line-height:16px;color:#000">Multiple tables,<br>relationships,<br>constraints and<br>indexes added</div>
</div>
</body></html>
